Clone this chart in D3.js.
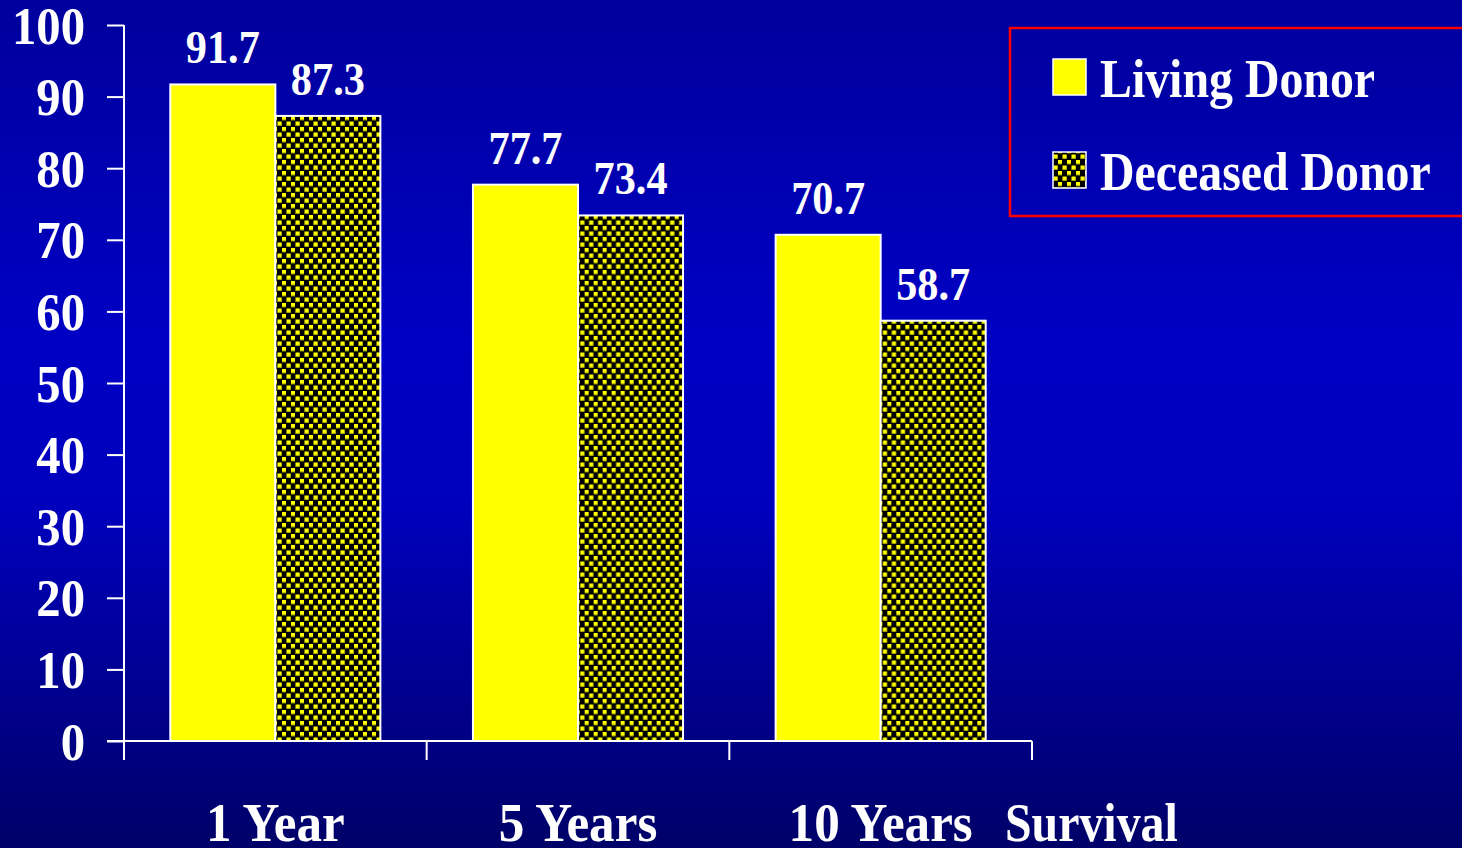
<!DOCTYPE html>
<html>
<head>
<meta charset="utf-8">
<script src="https://cdn.jsdelivr.net/npm/d3@7"></script>
<style>
  html, body { margin: 0; padding: 0; background: #0000a0; }
  svg { display: block; }
  text { font-family: "Liberation Serif", "Times New Roman", serif; font-weight: bold; fill: #ffffff; }
</style>
</head>
<body>
<svg id="chart" width="1462" height="848"></svg>
<script>
// Graft survival (%) by donor type
const categories = ["1 Year", "5 Years", "10 Years"];
const seriesNames = ["Living Donor", "Deceased Donor"];
const livingDonor = [91.7, 77.7, 70.7];
const deceasedDonor = [87.3, 73.4, 58.7];
const yTicks = [0, 10, 20, 30, 40, 50, 60, 70, 80, 90, 100];
const axisTitle = "Survival";

const W = 1462, H = 848;
// horizontal squeeze for the narrow slide lettering
const squeezeWords = 0.87;
const squeezeDigits = 0.92;

const svg = d3.select("#chart");
const defs = svg.append("defs");

// Background: vertical blue gradient
const grad = defs.append("linearGradient")
  .attr("id", "bg").attr("x1", 0).attr("y1", 0).attr("x2", 0).attr("y2", 1);
[[0, "#00009c"], [0.4, "#0000c4"], [0.6, "#0000bc"], [1, "#000068"]]
  .forEach(([o, c]) => grad.append("stop").attr("offset", o).attr("stop-color", c));
svg.append("rect").attr("width", W).attr("height", H).attr("fill", "url(#bg)");

// Checkered fill for the deceased-donor bars
const pat = defs.append("pattern")
  .attr("id", "checks").attr("patternUnits", "userSpaceOnUse")
  .attr("width", 9).attr("height", 11);
pat.append("rect").attr("width", 9).attr("height", 11).attr("fill", "#000000");
[[0.5, 0.5], [5, 6]].forEach(([px, py]) => {
  pat.append("rect").attr("x", px).attr("y", py).attr("width", 4.2).attr("height", 4.2).attr("fill", "#ffff00");
  pat.append("rect").attr("x", px).attr("y", py + 3.4).attr("width", 4.2).attr("height", 0.8).attr("fill", "#a0a000");
});

const fills = { "Living Donor": "#ffff00", "Deceased Donor": "url(#checks)" };

// Scales
const y = d3.scaleLinear().domain([0, 100]).range([741, 25]);
const x0 = d3.scaleBand().domain(categories).range([124, 1032]).paddingInner(0).paddingOuter(0);
const x1 = d3.scaleBand().domain(seriesNames).range([0, x0.bandwidth()]).paddingInner(0).paddingOuter(0.441);

function label(g, x, yPos, str, size, anchor, sq) {
  return g.append("text")
    .attr("transform", `translate(${x},${yPos}) scale(${sq},1)`)
    .attr("text-anchor", anchor)
    .style("font-size", size + "px")
    .text(str);
}

// Y axis
const yAxis = svg.append("g")
  .attr("transform", "translate(124,0)")
  .call(d3.axisLeft(y).tickValues(yTicks).tickSize(17).tickFormat(d3.format("d")));
yAxis.selectAll("path, line").attr("stroke", "#ffffff").attr("stroke-width", 2);
yAxis.select(".domain").attr("d", `M0,${y(100)}V${y(0)}`);
yAxis.selectAll("text")
  .attr("x", -39 / squeezeDigits)
  .attr("dy", "0.34em")
  .attr("transform", `scale(${squeezeDigits},1)`)
  .attr("fill", "#ffffff")
  .style("font-size", "53px")
  .style("font-family", '"Liberation Serif", "Times New Roman", serif')
  .style("font-weight", "bold");

// Bars
const rows = categories.map((c, i) => ({ cat: c, values: [
  { series: "Living Donor", value: livingDonor[i] },
  { series: "Deceased Donor", value: deceasedDonor[i] }
]}));

const groups = svg.append("g").selectAll("g")
  .data(rows).join("g")
  .attr("transform", d => `translate(${x0(d.cat)},0)`);

groups.selectAll("rect")
  .data(d => d.values).join("rect")
  .attr("x", d => x1(d.series))
  .attr("y", d => y(d.value))
  .attr("width", x1.bandwidth())
  .attr("height", d => y(0) - y(d.value))
  .attr("fill", d => fills[d.series])
  .attr("stroke", "#ffffff")
  .attr("stroke-width", 2);

groups.each(function (d) {
  const g = d3.select(this);
  d.values.forEach(v => {
    label(g, x1(v.series) + x1.bandwidth() / 2, y(v.value) - 21, v.value.toFixed(1), 46, "middle", squeezeDigits);
  });
});

// X axis: baseline and ticks at category boundaries
const xAxis = svg.append("g");
xAxis.append("line")
  .attr("x1", 107).attr("x2", x0.range()[1])
  .attr("y1", y(0)).attr("y2", y(0))
  .attr("stroke", "#ffffff").attr("stroke-width", 2);
const bounds = [x0.range()[0]].concat(categories.map(c => x0(c) + x0.bandwidth()));
xAxis.selectAll("line.tick")
  .data(bounds).join("line")
  .attr("class", "tick")
  .attr("x1", d => d).attr("x2", d => d)
  .attr("y1", y(0)).attr("y2", y(0) + 19)
  .attr("stroke", "#ffffff").attr("stroke-width", 2);
categories.forEach(c => label(xAxis, x0(c) + x0.bandwidth() / 2, 841, c, 55, "middle", 0.93));
label(xAxis, 1005, 841, axisTitle, 55, "start", squeezeWords);

// Legend
const legend = svg.append("g");
legend.append("rect")
  .attr("x", 1010).attr("y", 28).attr("width", 470).attr("height", 188)
  .attr("fill", "none").attr("stroke", "#ff0000").attr("stroke-width", 2.5);
seriesNames.forEach((s, i) => {
  const top = 59 + i * 93;
  legend.append("rect")
    .attr("x", 1053).attr("y", top).attr("width", 33).attr("height", 36)
    .attr("fill", fills[s]).attr("stroke", "#ffffff").attr("stroke-width", 1.5);
  label(legend, 1100, top + 38, s, 55, "start", squeezeWords);
});
</script>
</body>
</html>
